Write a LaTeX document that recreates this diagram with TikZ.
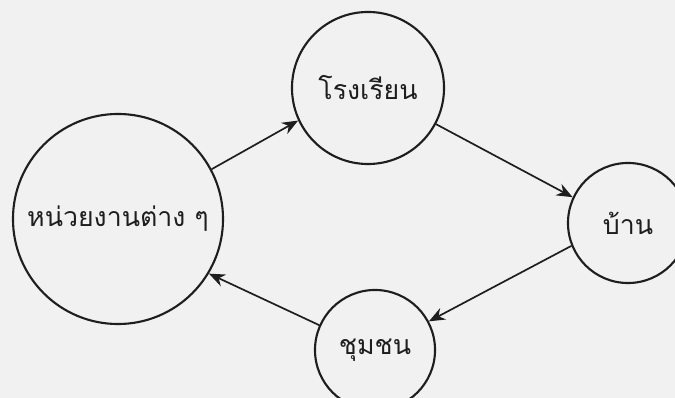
\documentclass[tikz,border=0pt]{standalone}
\usepackage{fontspec}
\newfontfamily\thaifont[Script=Thai]{Loma}
\usetikzlibrary{arrows.meta}
\definecolor{ink}{HTML}{1E1E1E}
\definecolor{paper}{HTML}{F1F1F1}

\begin{document}
\begin{tikzpicture}[x=0.025cm,y=-0.025cm,font=\thaifont\fontsize{19}{22}\selectfont,
  c/.style={draw=ink,circle,line width=1.5pt,inner sep=-4pt,align=center,text=ink},
  a/.style={-{Stealth[length=4mm,width=3.2mm]},ink,line width=1.2pt}]
\fill[paper] (0,0) rectangle (675,398);
\clip (0,0) rectangle (675,398);
\node[c,minimum size=5.25cm] (unit) at (118,219) {หน่วยงานต่าง ๆ};
\node[c,minimum size=3.8cm] (school) at (368,88) {โรงเรียน};
\node[c,minimum size=3cm] (home) at (628,223) {บ้าน};
\node[c,minimum size=3cm] (comm) at (375,350) {ชุมชน};
\draw[a] (unit.28) -- (school.205);
\draw[a] (school.332) -- (home.155);
\draw[a] (home.202) -- (comm.28);
\draw[a] (comm.156) -- (unit.329);
\end{tikzpicture}
\end{document}
